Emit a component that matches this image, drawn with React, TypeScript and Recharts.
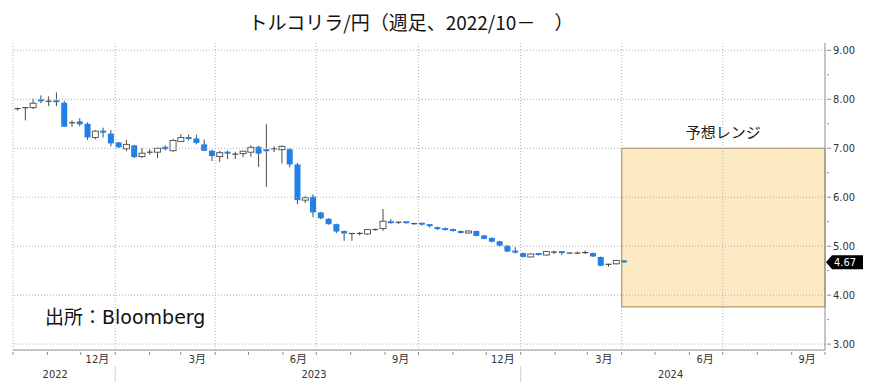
import { Bar, ComposedChart, ReferenceArea, ReferenceDot, ReferenceLine, XAxis, YAxis } from 'recharts'

// weekly candles, TRY/JPY
const weekDates = [
  '2022-10-05', '2022-10-12', '2022-10-19', '2022-10-26', '2022-11-02', '2022-11-09', '2022-11-16',
  '2022-11-23', '2022-11-30', '2022-12-07', '2022-12-14', '2022-12-21', '2022-12-28',
  '2023-01-04', '2023-01-11', '2023-01-18', '2023-01-25', '2023-02-01', '2023-02-08', '2023-02-15',
  '2023-02-22', '2023-03-01', '2023-03-08', '2023-03-15', '2023-03-22', '2023-03-29', '2023-04-05',
  '2023-04-12', '2023-04-19', '2023-04-26', '2023-05-03', '2023-05-10', '2023-05-17', '2023-05-24',
  '2023-05-31', '2023-06-07', '2023-06-14', '2023-06-21', '2023-06-28', '2023-07-05', '2023-07-12',
  '2023-07-19', '2023-07-26', '2023-08-02', '2023-08-09', '2023-08-16', '2023-08-23', '2023-08-30',
  '2023-09-06', '2023-09-13', '2023-09-20', '2023-09-27', '2023-10-04', '2023-10-11', '2023-10-18',
  '2023-10-25', '2023-11-01', '2023-11-08', '2023-11-15', '2023-11-22', '2023-11-29', '2023-12-06',
  '2023-12-13', '2023-12-20', '2023-12-27', '2024-01-03', '2024-01-10', '2024-01-17', '2024-01-24',
  '2024-01-31', '2024-02-07', '2024-02-14', '2024-02-21', '2024-02-28', '2024-03-06', '2024-03-13',
  '2024-03-20', '2024-03-27', '2024-04-03',
]
const opens = [
  7.81, 7.82, 7.83, 8.0, 7.955, 7.96, 7.93, 7.5, 7.55, 7.5, 7.22, 7.34, 7.3,
  7.12, 6.99, 7.06, 6.83, 6.91, 6.92, 7.03, 6.95, 7.14, 7.23, 7.2, 7.08, 6.95, 6.83,
  6.93, 6.87, 6.89, 6.92, 7.03, 6.96, 6.98, 6.97, 6.98, 6.67, 5.94, 6.01, 5.69, 5.56,
  5.45, 5.31, 5.25, 5.25, 5.25, 5.33, 5.36, 5.51, 5.46, 5.49, 5.46, 5.46, 5.43, 5.39,
  5.37, 5.35, 5.31, 5.27, 5.31, 5.22, 5.17, 5.1, 5.01, 4.89, 4.86, 4.78, 4.84, 4.82,
  4.87, 4.88, 4.86, 4.86, 4.86, 4.86, 4.78, 4.6, 4.64, 4.71,
]
const highs = [
  7.83, 7.84, 8.01, 8.08, 8.06, 8.14, 7.97, 7.57, 7.61, 7.53, 7.37, 7.42, 7.37,
  7.13, 7.17, 7.07, 7.0, 6.98, 7.01, 7.06, 7.19, 7.29, 7.28, 7.28, 7.18, 6.97, 6.95,
  6.95, 6.93, 6.95, 7.06, 7.05, 7.49, 7.04, 7.06, 7.0, 6.7, 6.03, 6.06, 5.7, 5.57,
  5.46, 5.32, 5.27, 5.29, 5.35, 5.36, 5.76, 5.55, 5.5, 5.5, 5.48, 5.47, 5.44, 5.4,
  5.38, 5.36, 5.32, 5.32, 5.32, 5.23, 5.18, 5.11, 5.02, 4.98, 4.87, 4.85, 4.85, 4.9,
  4.91, 4.89, 4.87, 4.89, 4.91, 4.87, 4.79, 4.64, 4.72, 4.72,
]
const lows = [
  7.77, 7.57, 7.8, 7.92, 7.86, 7.86, 7.44, 7.44, 7.45, 7.17, 7.18, 7.22, 7.04,
  7.01, 6.94, 6.8, 6.8, 6.87, 6.8, 6.96, 6.93, 7.13, 7.16, 7.08, 6.94, 6.74, 6.72,
  6.78, 6.78, 6.82, 6.83, 6.62, 6.21, 6.92, 6.69, 6.61, 5.86, 5.88, 5.59, 5.55, 5.44,
  5.27, 5.11, 5.11, 5.22, 5.23, 5.32, 5.31, 5.46, 5.45, 5.46, 5.44, 5.42, 5.38, 5.33,
  5.32, 5.3, 5.26, 5.26, 5.2, 5.14, 5.08, 5.0, 4.88, 4.85, 4.77, 4.77, 4.81, 4.81,
  4.84, 4.82, 4.85, 4.84, 4.84, 4.78, 4.59, 4.58, 4.63, 4.66,
]
const closes = [
  7.81, 7.83, 7.92, 7.96, 7.96, 7.95, 7.44, 7.52, 7.49, 7.22, 7.35, 7.33, 7.1,
  7.02, 7.08, 6.82, 6.9, 6.92, 7.0, 6.98, 7.16, 7.22, 7.19, 7.11, 6.95, 6.84, 6.91,
  6.89, 6.88, 6.94, 7.02, 6.89, 6.93, 6.99, 7.04, 6.67, 5.94, 5.99, 5.69, 5.57, 5.45,
  5.3, 5.26, 5.26, 5.26, 5.34, 5.34, 5.51, 5.47, 5.49, 5.47, 5.46, 5.43, 5.4, 5.35,
  5.33, 5.31, 5.27, 5.31, 5.21, 5.15, 5.09, 5.01, 4.89, 4.86, 4.78, 4.84, 4.82, 4.89,
  4.88, 4.86, 4.86, 4.86, 4.87, 4.79, 4.6, 4.63, 4.71, 4.67,
]

const monthStarts = [
  '2022-10-01', '2022-11-01', '2022-12-01', '2023-01-01', '2023-02-01', '2023-03-01', '2023-04-01',
  '2023-05-01', '2023-06-01', '2023-07-01', '2023-08-01', '2023-09-01', '2023-10-01', '2023-11-01',
  '2023-12-01', '2024-01-01', '2024-02-01', '2024-03-01', '2024-04-01', '2024-05-01', '2024-06-01',
  '2024-07-01', '2024-08-01', '2024-09-01', '2024-10-01',
]
const monthLabelDates = ['2022-12-16', '2023-03-16', '2023-06-15', '2023-09-15', '2023-12-16', '2024-03-16', '2024-06-15', '2024-09-15']
const monthLabels = ['12月', '3月', '6月', '9月', '12月', '3月', '6月', '9月']
const yearLabelDates = ['2022-11-08', '2023-06-29', '2024-05-15']
const yearLabels = ['2022', '2023', '2024']
const yearBreaks = ['2023-01-01', '2024-01-01']
const gridDates = ['2022-10-01', '2023-01-01', '2023-04-01', '2023-07-01', '2023-10-01', '2024-01-01', '2024-04-01', '2024-07-01']
const yTicks = [3, 3.5, 4, 4.5, 5, 5.5, 6, 6.5, 7, 7.5, 8, 8.5, 9]
const gridValues = [3, 4, 5, 6, 7, 8, 9]

const rangeStart = '2024-04-01'
const rangeEnd = '2024-10-01'
const rangeLow = 3.76
const rangeHigh = 7.0

const ts = (d: string) => Date.parse(d)
const xMin = ts('2022-10-01')
const xMax = ts('2024-10-01')
const lastPrice = closes[closes.length - 1]

const data = weekDates.map((d, i) => ({
  t: ts(d),
  open: opens[i],
  high: highs[i],
  low: lows[i],
  close: closes[i],
  range: [lows[i], highs[i]],
}))

const tickKind = new Map<number, { kind: string; text?: string }>()
monthStarts.forEach((d) => tickKind.set(ts(d), { kind: 'month' }))
yearBreaks.forEach((d) => tickKind.set(ts(d), { kind: 'break' }))
monthLabelDates.forEach((d, i) => tickKind.set(ts(d), { kind: 'label', text: monthLabels[i] }))
yearLabelDates.forEach((d, i) => tickKind.set(ts(d), { kind: 'year', text: yearLabels[i] }))
const xTicks = Array.from(tickKind.keys()).sort((a, b) => a - b)

const AXIS = '#8c8c8c'
const GRID = '#b0b0b0'
const BLUE = '#1f80ea'
const DARK = '#4a4a4a'
const NUM_FONT = "'DejaVu Sans Condensed', 'Liberation Sans', 'Noto Sans CJK JP', sans-serif"
const JP_FONT = "'Noto Sans CJK JP', sans-serif"

function Candle(props: any) {
  const { x, y, width, height, payload } = props
  if (x == null || y == null || !payload) return null
  const top = Math.min(y, y + height)
  const bottom = Math.max(y, y + height)
  const { open, high, low, close } = payload
  const span = high - low
  const toY = (v: number) => (span > 0 ? top + ((high - v) / span) * (bottom - top) : top)
  const cx = x + width / 2
  const up = close >= open
  const bTop = toY(Math.max(open, close))
  const bBot = toY(Math.min(open, close))
  const flat = bBot - bTop < 1.5
  return (
    <g>
      <line x1={cx} x2={cx} y1={top} y2={bottom} stroke={DARK} strokeWidth={1} />
      {flat ? (
        <line x1={cx - 3} x2={cx + 3} y1={bTop} y2={bTop} stroke={up ? DARK : BLUE} strokeWidth={up ? 1.2 : 2} />
      ) : up ? (
        <rect x={cx - 3} y={bTop} width={6} height={bBot - bTop} fill="#fff" stroke={DARK} strokeWidth={0.9} />
      ) : (
        <rect x={cx - 3} y={bTop} width={6} height={bBot - bTop} fill={BLUE} />
      )}
    </g>
  )
}

function XTick(props: any) {
  const { x, y, payload } = props
  const info = tickKind.get(payload?.value)
  if (!info) return null
  if (info.kind === 'month') {
    return <line x1={x} x2={x} y1={y} y2={y + 3} stroke={AXIS} />
  }
  if (info.kind === 'break') {
    return (
      <g>
        <line x1={x} x2={x} y1={y} y2={y + 3} stroke={AXIS} />
        <line x1={x} x2={x} y1={y + 14} y2={y + 30} stroke="#d0d0d0" />
      </g>
    )
  }
  if (info.kind === 'label') {
    return (
      <text x={x} y={y + 11} textAnchor="middle" fontSize={11} fill="#333" fontFamily={NUM_FONT}>
        {info.text}
      </text>
    )
  }
  return (
    <text x={x} y={y + 26} textAnchor="middle" fontSize={11} fill="#333" fontFamily={NUM_FONT}>
      {info.text}
    </text>
  )
}

function YTick(props: any) {
  const { x, y, payload } = props
  const v = payload?.value
  const major = Number.isInteger(v)
  return (
    <g>
      <line x1={x} x2={x + (major ? 4 : 2)} y1={y} y2={y} stroke={AXIS} />
      {major && (
        <text x={x + 6} y={y + 4} fontSize={11} fill="#333" fontFamily={NUM_FONT}>
          {v.toFixed(2)}
        </text>
      )}
    </g>
  )
}

function PriceTag(props: any) {
  const { cx, cy } = props
  if (cx == null || cy == null) return null
  const h = 7
  return (
    <g>
      <polygon
        points={`${cx + 1},${cy} ${cx + 7},${cy - h} ${cx + 38},${cy - h} ${cx + 38},${cy + h} ${cx + 7},${cy + h}`}
        fill="#000"
      />
      <text x={cx + 9} y={cy + 4} fontSize={11} fill="#fff" fontFamily={NUM_FONT}>
        {lastPrice.toFixed(2)}
      </text>
    </g>
  )
}

export default function App() {
  return (
    <div style={{ position: 'absolute', left: 0, top: 0, width: 875, height: 385, background: '#fff' }}>
      <div
        style={{
          position: 'absolute',
          left: 0,
          top: 9,
          width: 822,
          textAlign: 'center',
          fontFamily: JP_FONT,
          fontSize: 19,
          lineHeight: '26px',
          color: '#111',
        }}
      >
        トルコリラ/円（週足、2022/10－　）
      </div>
      <ComposedChart width={875} height={385} data={data} margin={{ top: 43, right: 0, bottom: 5, left: 13 }}>
        <XAxis
          dataKey="t"
          type="number"
          domain={[xMin, xMax]}
          allowDataOverflow
          ticks={xTicks}
          interval={0}
          tick={<XTick />}
          tickLine={false}
          tickSize={0}
          axisLine={{ stroke: AXIS }}
          height={30}
        />
        <YAxis
          orientation="right"
          domain={[2.88, 9.15]}
          allowDataOverflow
          ticks={yTicks}
          interval={0}
          tick={<YTick />}
          tickLine={false}
          tickSize={0}
          axisLine={{ stroke: AXIS }}
          width={50}
        />
        <ReferenceArea
          x1={ts(rangeStart)}
          x2={ts(rangeEnd)}
          y1={rangeLow}
          y2={rangeHigh}
          fill="#f8d68a"
          fillOpacity={0.5}
          stroke="#9c8447"
          strokeWidth={1}
          label={{ value: '予想レンジ', position: 'top', offset: 10, fontSize: 15, fill: '#222', fontFamily: JP_FONT }}
        />
        {gridValues.map((v) => (
          <ReferenceLine key={`h${v}`} y={v} stroke={GRID} strokeDasharray="1 2" />
        ))}
        {gridDates.map((d) => (
          <ReferenceLine key={`v${d}`} x={ts(d)} stroke={GRID} strokeDasharray="1 2" />
        ))}
        <Bar dataKey="range" barSize={6} shape={<Candle />} isAnimationActive={false} />
        <ReferenceDot x={xMax} y={lastPrice} r={0} shape={<PriceTag />} ifOverflow="visible" />
      </ComposedChart>
      <div
        style={{
          position: 'absolute',
          left: 45,
          top: 304,
          fontFamily: "'DejaVu Sans', 'Noto Sans CJK JP', sans-serif",
          fontSize: 19,
          lineHeight: '26px',
          color: '#111',
        }}
      >
        出所：Bloomberg
      </div>
    </div>
  )
}
